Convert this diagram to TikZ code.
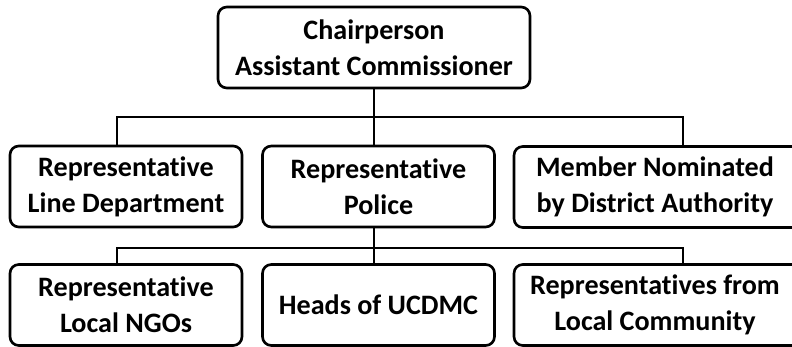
\documentclass[tikz,border=0pt]{standalone}
\usepackage{fontspec}
\setmainfont{Carlito}[RawFeature=-liga]
\usepackage{tikz}

\newcommand{\rpad}{\hspace*{0.96cm}}

\begin{document}
\begin{tikzpicture}[x=0.02cm,y=-0.02cm,font=\fontsize{16}{20.5}\selectfont\bfseries]
    \tikzset{
        unit/.style={
            draw,line width=1.5pt,rounded corners=5pt,fill=white,
            minimum width=4.64cm,minimum height=1.62cm,align=center,
            inner sep=0pt
        },
        wide/.style={unit,minimum width=6.6cm},
        head/.style={unit,minimum width=6.24cm},
        link/.style={line width=1.4pt}
    }
    \clip (0,0) rectangle (792,346);

    % bus lines
    \coordinate (busAw) at (117,117);
    \coordinate (busAe) at (683,117);
    \coordinate (busBw) at (117,248);
    \coordinate (busBe) at (683,248);

    \node[head] (chair) at (374,47.5)
        {Chairperson\\Assistant Commissioner};

    \node[unit] (linedept) at (126,186.5)
        {Representative\\Line Department};
    \node[unit] (police) at (378.5,186.5)
        {Representative\\Police};
    \node[wide] (member) at (679,187)
        {Member Nominated\rpad\\by District Authority\rpad};

    \node[unit] (ngos) at (126,305)
        {Representative\\Local NGOs};
    \node[unit] (ucdmc) at (378.5,305)
        {Heads of UCDMC};
    \node[wide] (community) at (679,305)
        {Representatives from\rpad\\Local Community\rpad};

    \draw[link] (chair.south) -- (chair.south |- busAw);
    \draw[link] (busAw |- linedept.north) -- (busAw) -- (busAe)
        -- (busAe |- member.north);
    \draw[link] (chair.south |- busAw) -- (chair.south |- police.north);

    \draw[link] (chair.south |- police.south) -- (chair.south |- busBw);
    \draw[link] (busBw |- ngos.north) -- (busBw) -- (busBe)
        -- (busBe |- community.north);
    \draw[link] (chair.south |- busBw) -- (chair.south |- ucdmc.north);
\end{tikzpicture}
\end{document}
